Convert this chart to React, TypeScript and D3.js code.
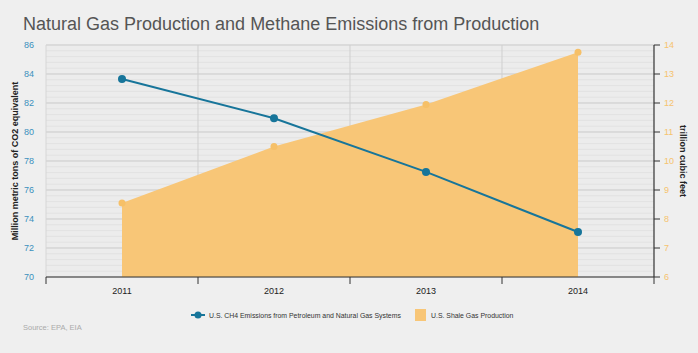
import React, { useEffect, useRef } from "react";
import * as d3 from "d3";

const years = ["2011", "2012", "2013", "2014"];
const ch4Emissions = [83.65, 80.95, 77.25, 73.1];
const shaleProduction = [8.55, 10.5, 11.95, 13.75];
const leftTicks = [70, 72, 74, 76, 78, 80, 82, 84, 86];
const rightTicks = [6, 7, 8, 9, 10, 11, 12, 13, 14];

const App = () => {
  const ref = useRef<SVGSVGElement>(null);

  useEffect(() => {
    const svg = d3.select(ref.current);
    svg.selectAll("*").remove();

    const width = 698;
    const height = 353;
    const margin = { top: 45, right: 44, bottom: 76, left: 46 };
    const innerW = width - margin.left - margin.right;
    const innerH = height - margin.top - margin.bottom;
    const font = "Liberation Sans, Arial, sans-serif";

    svg.append("rect").attr("width", width).attr("height", height).attr("fill", "#efefef");

    const chart = svg.append("g").attr("transform", `translate(${margin.left},${margin.top})`);

    const x = d3.scaleBand().domain(years).range([0, innerW]);
    const cx = (d: string) => (x(d) as number) + x.bandwidth() / 2;
    const yL = d3.scaleLinear().domain([70, 86]).range([innerH, 0]);
    const yR = d3.scaleLinear().domain([6, 14]).range([innerH, 0]);

    // plot background + minor grid
    chart.append("rect").attr("width", innerW).attr("height", innerH).attr("fill", "#ececec");
    chart.append("g")
      .selectAll("line")
      .data(d3.range(70, 86.01, 0.4))
      .enter()
      .append("line")
      .attr("x1", 0).attr("x2", innerW)
      .attr("y1", (d) => yL(d)).attr("y2", (d) => yL(d))
      .attr("stroke", "#dedede").attr("stroke-width", 0.7);
    chart.append("g")
      .selectAll("line")
      .data(leftTicks)
      .enter()
      .append("line")
      .attr("x1", 0).attr("x2", innerW)
      .attr("y1", (d) => yL(d)).attr("y2", (d) => yL(d))
      .attr("stroke", "#cfcfcf").attr("stroke-width", 1);
    // vertical grid at category boundaries
    chart.append("g")
      .selectAll("line")
      .data(years.slice(1))
      .enter()
      .append("line")
      .attr("x1", (d) => x(d) as number).attr("x2", (d) => x(d) as number)
      .attr("y1", 0).attr("y2", innerH)
      .attr("stroke", "#cfcfcf");
    chart.append("line").attr("x1", 0).attr("x2", 0).attr("y1", 0).attr("y2", innerH)
      .attr("stroke", "#d6d6d6");

    // area
    const area = d3.area<number>()
      .x((d, i) => cx(years[i]))
      .y0(innerH)
      .y1((d) => yR(d));
    chart.append("path").datum(shaleProduction).attr("d", area).attr("fill", "#f8c677");
    chart.append("g")
      .selectAll("circle")
      .data(shaleProduction)
      .enter()
      .append("circle")
      .attr("cx", (d, i) => cx(years[i])).attr("cy", (d) => yR(d))
      .attr("r", 3.5).attr("fill", "#f6c068");

    // line
    const line = d3.line<number>()
      .x((d, i) => cx(years[i]))
      .y((d) => yL(d));
    chart.append("path").datum(ch4Emissions).attr("d", line)
      .attr("fill", "none").attr("stroke", "#17759a").attr("stroke-width", 2);
    chart.append("g")
      .selectAll("circle")
      .data(ch4Emissions)
      .enter()
      .append("circle")
      .attr("cx", (d, i) => cx(years[i])).attr("cy", (d) => yL(d))
      .attr("r", 4).attr("fill", "#17759a");

    // bottom axis
    const bottom = chart.append("g").attr("transform", `translate(0,${innerH})`);
    bottom.append("line").attr("x1", 0).attr("x2", innerW).attr("stroke", "#333").attr("stroke-width", 1.2);
    bottom.selectAll("line.tick")
      .data([...years.map((d) => x(d) as number), innerW])
      .enter()
      .append("line")
      .attr("class", "tick")
      .attr("x1", (d) => d).attr("x2", (d) => d)
      .attr("y1", 0).attr("y2", 7)
      .attr("stroke", "#333");
    bottom.selectAll("text")
      .data(years)
      .enter()
      .append("text")
      .attr("x", (d) => cx(d)).attr("y", 17)
      .attr("text-anchor", "middle")
      .style("font-family", font).style("font-size", "9px").attr("fill", "#222")
      .text((d) => d);

    // left axis labels
    chart.append("g")
      .selectAll("text")
      .data(leftTicks)
      .enter()
      .append("text")
      .attr("x", -12).attr("y", (d) => yL(d) + 3)
      .attr("text-anchor", "end")
      .style("font-family", font).style("font-size", "9px").attr("fill", "#3b8fbd")
      .text((d) => d);

    // right axis
    const right = chart.append("g").attr("transform", `translate(${innerW},0)`);
    right.append("line").attr("y1", 0).attr("y2", innerH).attr("stroke", "#333").attr("stroke-width", 1.2);
    right.selectAll("line.tick")
      .data(rightTicks)
      .enter()
      .append("line")
      .attr("class", "tick")
      .attr("x1", 0).attr("x2", 6)
      .attr("y1", (d) => yR(d)).attr("y2", (d) => yR(d))
      .attr("stroke", "#333");
    right.selectAll("text")
      .data(rightTicks)
      .enter()
      .append("text")
      .attr("x", 10).attr("y", (d) => yR(d) + 3)
      .style("font-family", font).style("font-size", "9px").attr("fill", "#f6c36e")
      .text((d) => d);

    // axis titles
    svg.append("text")
      .attr("transform", `translate(18,${margin.top + innerH / 2}) rotate(-90)`)
      .attr("text-anchor", "middle")
      .style("font-family", font).style("font-size", "9px").style("font-weight", "bold").attr("fill", "#222")
      .text("Million metric tons of CO2 equivalent");
    svg.append("text")
      .attr("transform", `translate(680,${margin.top + innerH / 2}) rotate(90)`)
      .attr("text-anchor", "middle")
      .style("font-family", font).style("font-size", "9px").style("font-weight", "bold").attr("fill", "#222")
      .text("trillion cubic feet");

    // title
    svg.append("text")
      .attr("x", 23).attr("y", 30)
      .style("font-family", font).style("font-size", "18px").attr("fill", "#555")
      .text("Natural Gas Production and Methane Emissions from Production");

    // legend
    const legend = svg.append("g").attr("transform", "translate(0,315)");
    legend.append("line").attr("x1", 191).attr("x2", 205).attr("y1", 0).attr("y2", 0)
      .attr("stroke", "#17759a").attr("stroke-width", 2);
    legend.append("circle").attr("cx", 198).attr("cy", 0).attr("r", 3.5).attr("fill", "#17759a");
    legend.append("text").attr("x", 209).attr("y", 3)
      .style("font-family", font).style("font-size", "6.9px").attr("fill", "#333")
      .text("U.S. CH4 Emissions from Petroleum and Natural Gas Systems");
    legend.append("rect").attr("x", 415).attr("y", -6).attr("width", 11).attr("height", 12).attr("fill", "#f8c677");
    legend.append("text").attr("x", 431).attr("y", 3)
      .style("font-family", font).style("font-size", "6.9px").attr("fill", "#333")
      .text("U.S. Shale Gas Production");

    svg.append("text")
      .attr("x", 23).attr("y", 330)
      .style("font-family", font).style("font-size", "7.5px").attr("fill", "#aaa")
      .text("Source: EPA, EIA");
  }, []);

  return <svg ref={ref} width={698} height={353} style={{ position: "absolute", left: 0, top: 0 }} />;
};

export default App;
